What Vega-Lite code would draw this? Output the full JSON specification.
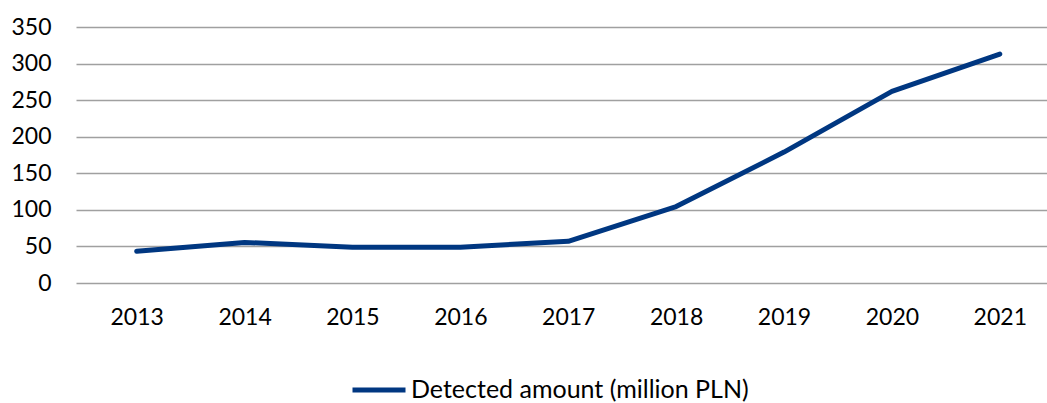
{
  "$schema": "https://vega.github.io/schema/vega-lite/v6.json",
  "width": 971,
  "height": 256,
  "autosize": {"type": "none"},
  "padding": {"left": 76, "top": 27, "right": 0, "bottom": 120},
  "background": "white",
  "data": {
    "values": [
      {"year": "2013", "amount": 43.5, "series": "Detected amount (million PLN)"},
      {"year": "2014", "amount": 55.5, "series": "Detected amount (million PLN)"},
      {"year": "2015", "amount": 49, "series": "Detected amount (million PLN)"},
      {"year": "2016", "amount": 49, "series": "Detected amount (million PLN)"},
      {"year": "2017", "amount": 57, "series": "Detected amount (million PLN)"},
      {"year": "2018", "amount": 104.5, "series": "Detected amount (million PLN)"},
      {"year": "2019", "amount": 179, "series": "Detected amount (million PLN)"},
      {"year": "2020", "amount": 262, "series": "Detected amount (million PLN)"},
      {"year": "2021", "amount": 313, "series": "Detected amount (million PLN)"}
    ]
  },
  "config": {
    "view": {"stroke": null},
    "font": "Lato"
  },
  "mark": {"type": "line", "strokeWidth": 5, "strokeCap": "round", "strokeJoin": "round"},
  "encoding": {
    "x": {
      "field": "year",
      "type": "ordinal",
      "scale": {"type": "point", "paddingOuter": 0.44, "align": 0.5625},
      "axis": {
        "title": null,
        "labelAngle": 0,
        "domain": false,
        "ticks": false,
        "grid": false,
        "labelFontSize": 23,
        "labelColor": "#000000",
        "labelPadding": 23,
        "labelFont": "Lato"
      }
    },
    "y": {
      "field": "amount",
      "type": "quantitative",
      "scale": {"domain": [0, 350], "nice": false},
      "axis": {
        "title": null,
        "values": [0, 50, 100, 150, 200, 250, 300, 350],
        "domain": false,
        "ticks": false,
        "grid": true,
        "gridColor": "#A0A0A0",
        "gridWidth": 1.4,
        "labelFontSize": 23,
        "labelColor": "#000000",
        "labelPadding": 25,
        "labelFont": "Lato"
      }
    },
    "color": {
      "field": "series",
      "type": "nominal",
      "scale": {"range": ["#003781"]},
      "legend": {
        "title": null,
        "orient": "none",
        "legendX": 274,
        "legendY": 334,
        "symbolType": "stroke",
        "symbolSize": 2809,
        "symbolStrokeWidth": 5,
        "labelFontSize": 25,
        "labelColor": "#000000",
        "labelFont": "Lato",
        "labelOffset": 3,
        "labelLimit": 500
      }
    }
  }
}
